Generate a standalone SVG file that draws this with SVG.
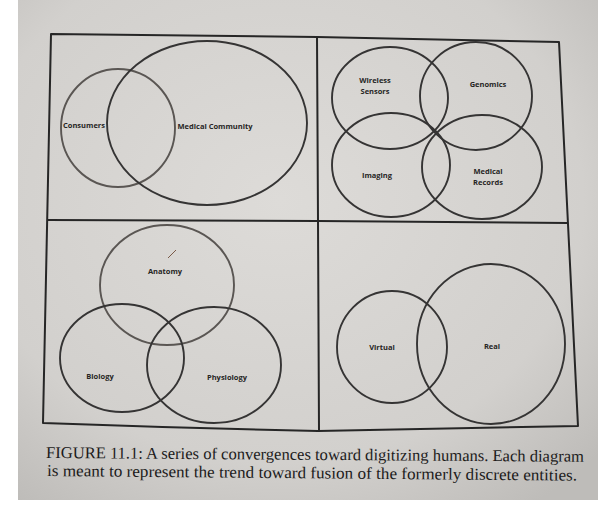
<svg xmlns="http://www.w3.org/2000/svg" width="598" height="513" viewBox="0 0 598 513">
  <defs>
    <radialGradient id="paper" cx="45%" cy="40%" r="75%">
      <stop offset="0" stop-color="#dddbd8"/>
      <stop offset="0.7" stop-color="#d2d0cd"/>
      <stop offset="1" stop-color="#bebcb9"/>
    </radialGradient>
  </defs>
  <style>
    .frame { fill: none; stroke: #262626; stroke-width: 2; stroke-linejoin: round; }
    .c { fill: none; stroke: #353434; stroke-width: 1.9; }
    .cl { fill: none; stroke: #5a5653; stroke-width: 1.9; }
    .lbl { font-family: "Open Sans", "Liberation Sans", sans-serif; font-size: 7.5px; font-weight: 700; fill: #262524; text-anchor: middle; }
    .cap { font-family: "Liberation Serif", "DejaVu Serif", serif; font-size: 16.5px; fill: #1c1b1b; }
  </style>

  <rect x="0" y="0" width="598" height="513" fill="#ffffff"/>
  <rect x="18" y="0" width="580" height="500" fill="url(#paper)"/>

  <!-- frame and dividers -->
  <g id="frame">
    <path class="frame" d="M51,34 L317,37 L559,42 L578,426 Q450,428 318,431 Q180,428 43,423 Z"/>
    <path class="frame" d="M317,37 L318,221 L319,431"/>
    <path class="frame" d="M47,220 L318,221 L568,223"/>
  </g>

  <!-- Panel 1 -->
  <g id="consumers">
    <ellipse class="cl" cx="118" cy="128" rx="57" ry="59"/>
    <text class="lbl" x="84" y="128">Consumers</text>
  </g>
  <g id="medical-community">
    <ellipse class="c" cx="207" cy="123" rx="100" ry="82"/>
    <text class="lbl" x="215" y="129">Medical Community</text>
  </g>

  <!-- Panel 2 -->
  <g id="wireless-sensors">
    <ellipse class="c" cx="390" cy="98" rx="58" ry="51"/>
    <text class="lbl" x="375" y="83">Wireless</text>
    <text class="lbl" x="375" y="94">Sensors</text>
  </g>
  <g id="genomics">
    <ellipse class="c" cx="476" cy="96" rx="56" ry="54"/>
    <text class="lbl" x="488" y="87">Genomics</text>
  </g>
  <g id="imaging">
    <ellipse class="c" cx="391" cy="165" rx="59" ry="52"/>
    <text class="lbl" x="377" y="178">Imaging</text>
  </g>
  <g id="medical-records">
    <ellipse class="c" cx="482" cy="167" rx="60" ry="52"/>
    <text class="lbl" x="488" y="174">Medical</text>
    <text class="lbl" x="488" y="185">Records</text>
  </g>

  <!-- Panel 3 -->
  <g id="anatomy">
    <ellipse class="cl" cx="167" cy="285" rx="67" ry="60"/>
    <path d="M168,258 L176,250" stroke="#7a5a48" stroke-width="1" fill="none"/>
    <text class="lbl" x="165" y="274">Anatomy</text>
  </g>
  <g id="biology">
    <ellipse class="c" cx="122" cy="358" rx="62" ry="54"/>
    <text class="lbl" x="100" y="379">Biology</text>
  </g>
  <g id="physiology">
    <ellipse class="c" cx="214" cy="365" rx="67" ry="58"/>
    <text class="lbl" x="227" y="380">Physiology</text>
  </g>

  <!-- Panel 4 -->
  <g id="virtual">
    <ellipse class="c" cx="392" cy="347" rx="55" ry="56"/>
    <text class="lbl" x="382" y="350">Virtual</text>
  </g>
  <g id="real">
    <ellipse class="c" cx="491" cy="344" rx="74" ry="80"/>
    <text class="lbl" x="492" y="349">Real</text>
  </g>

  <!-- Caption -->
  <g id="caption">
    <text class="cap" x="46" y="458" textLength="538" lengthAdjust="spacingAndGlyphs" transform="rotate(0.4 46 458)">FIGURE 11.1: A series of convergences toward digitizing humans. Each diagram</text>
    <text class="cap" x="47" y="476" textLength="530" lengthAdjust="spacingAndGlyphs" transform="rotate(0.5 47 476)">is meant to represent the trend toward fusion of the formerly discrete entities.</text>
  </g>
</svg>
